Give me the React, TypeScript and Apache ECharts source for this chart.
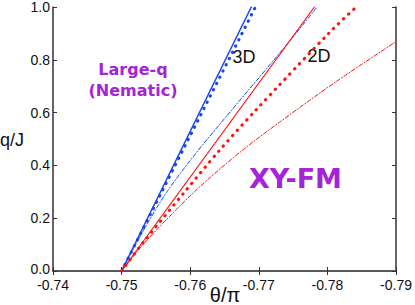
import React, { useEffect, useRef } from "react";
import * as echarts from "echarts";

const xTicks = [-0.74, -0.75, -0.76, -0.77, -0.78, -0.79];
const yTicks = [0, 0.2, 0.4, 0.6, 0.8, 1.0];

// [theta/pi, q/J]
const blueSolid: [number, number][] = [[-0.75, 0], [-0.7689, 1]];
const blueDotted: [number, number][] = [[-0.75, 0], [-0.7695, 1]];
const blueDashDot: [number, number][] = [
  [-0.75, 0], [-0.7531, 0.15], [-0.7566, 0.3], [-0.7611, 0.455], [-0.7659, 0.605], [-0.7744, 0.868], [-0.7785, 1],
];
const redSolid: [number, number][] = [[-0.75, 0], [-0.7781, 1]];
const redDotted: [number, number][] = [
  [-0.75, 0], [-0.7529, 0.1], [-0.7592, 0.3], [-0.7642, 0.455], [-0.7694, 0.605], [-0.7804, 0.906], [-0.7842, 1],
];
const redDashDot: [number, number][] = [
  [-0.75, 0], [-0.7531, 0.1], [-0.7606, 0.3], [-0.7675, 0.455], [-0.7732, 0.567], [-0.7813, 0.718], [-0.79, 0.869],
];

const BLUE = "#1a44f0";
const RED = "#ff1010";
const PURPLE = "#a424d6";

export default function App() {
  const ref = useRef<HTMLDivElement>(null);
  useEffect(() => {
    if (!ref.current) return;
    const chart = echarts.init(ref.current, undefined, { renderer: "svg" });
    const axisLine = { show: true, lineStyle: { color: "#333", width: 1.5 } };
    const tick = { show: true, inside: true, length: 4, lineStyle: { color: "#333", width: 1 } };
    const labelFont = { fontFamily: "Liberation Sans, Arial", fontSize: 14, color: "#111" };
    const mk = (name: string, data: [number, number][], color: string, width: number, type: any, smooth: any = false) => ({
      type: "line",
      name,
      data,
      showSymbol: false,
      smooth,
      lineStyle: { color, width, type, cap: "round" },
      z: 3,
    });
    chart.setOption({
      animation: false,
      backgroundColor: "#fff",
      grid: { left: 53, right: 17, top: 5, bottom: 34, containLabel: false },
      xAxis: [
        {
          type: "value", min: -0.79, max: -0.74, interval: 0.01, inverse: true, position: "bottom",
          axisLine, axisTick: tick, splitLine: { show: false },
          axisLabel: { ...labelFont, margin: 8, lineHeight: 12, formatter: (v: number) => v.toFixed(2),
            customValues: xTicks },
        },
        {
          type: "value", min: -0.79, max: -0.74, interval: 0.01, inverse: true, position: "top",
          axisLine: { show: true, lineStyle: { color: "#555", width: 1.5 } }, axisTick: tick, splitLine: { show: false }, axisLabel: { show: false },
        },
      ],
      yAxis: [
        {
          type: "value", min: 0, max: 1, interval: 0.2, position: "left",
          axisLine, axisTick: tick, splitLine: { show: false },
          axisLabel: {
            ...labelFont, margin: 3, lineHeight: 12,
            formatter: (v: number) => (v === 0 ? "{z|" + v.toFixed(1) + "}" : v.toFixed(1)),
            rich: { z: { ...labelFont, lineHeight: 12, padding: [0, 0, 5, 0] } },
            customValues: yTicks,
          },
        },
        {
          type: "value", min: 0, max: 1, interval: 0.2, position: "right",
          axisLine, axisTick: tick, splitLine: { show: false }, axisLabel: { show: false },
        },
      ],
      series: [
        mk("3D solid", blueSolid, BLUE, 1.5, "solid"),
        mk("3D dotted", blueDotted, BLUE, 3, [0.5, 6.5]),
        mk("3D dash-dot", blueDashDot, BLUE, 1, [4, 2, 1, 2], 0.3),
        mk("2D solid", redSolid, RED, 1.2, "solid"),
        mk("2D dotted", redDotted, RED, 3, [0.5, 6.5], 0.3),
        mk("2D dash-dot", redDashDot, RED, 1, [4, 2, 1, 2], 0.3),
      ],
      graphic: [
        { type: "text", left: 0, top: 131, style: { text: "q/J", fontFamily: "Liberation Sans, Arial", fontSize: 18, fill: "#111" } },
        { type: "text", x: 225, y: 295, style: { text: "θ/π", fontFamily: "Liberation Sans, Arial", fontSize: 20, fill: "#111", align: "center", verticalAlign: "middle" } },
        { type: "text", x: 133, y: 69, style: { text: "Large-q", fontFamily: "DejaVu Sans", fontWeight: "bold", fontSize: 16, fill: PURPLE, align: "center", verticalAlign: "middle" } },
        { type: "text", x: 133, y: 90, style: { text: "(Nematic)", fontFamily: "DejaVu Sans", fontWeight: "bold", fontSize: 16, fill: PURPLE, align: "center", verticalAlign: "middle" } },
        { type: "text", x: 295.5, y: 178, style: { text: "XY-FM", fontFamily: "DejaVu Sans", fontWeight: "bold", fontSize: 27, fill: PURPLE, align: "center", verticalAlign: "middle" } },
        { type: "text", x: 244, y: 57, style: { text: "3D", fontFamily: "Liberation Sans, Arial", fontSize: 18, fill: "#111", align: "center", verticalAlign: "middle" } },
        { type: "text", x: 319, y: 56, style: { text: "2D", fontFamily: "Liberation Sans, Arial", fontSize: 18, fill: "#111", align: "center", verticalAlign: "middle" } },
      ],
    });
    return () => chart.dispose();
  }, []);
  return <div ref={ref} style={{ width: 415, height: 305, position: "absolute", left: 0, top: 0 }} />;
}
